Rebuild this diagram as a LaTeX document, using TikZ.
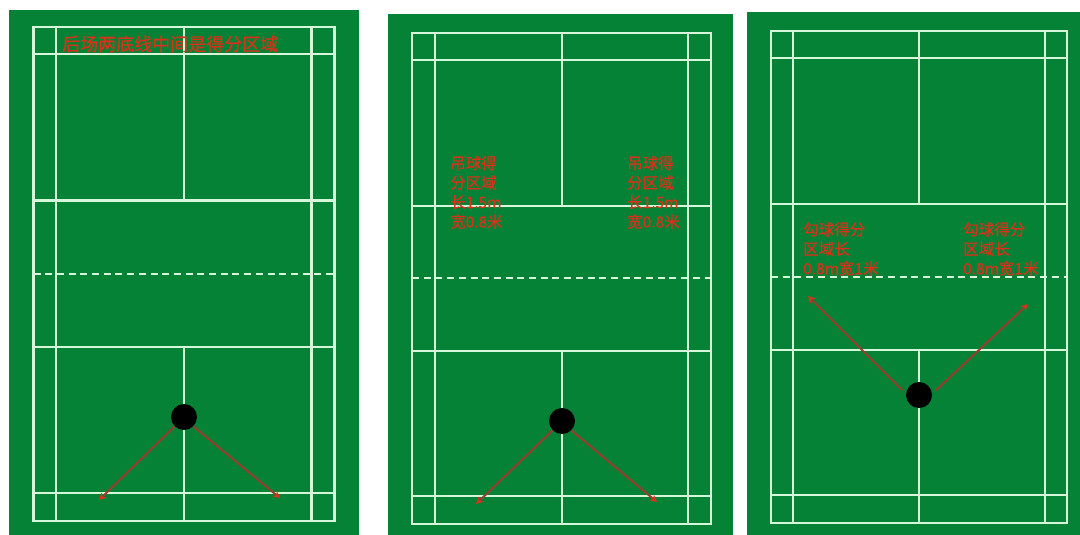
\documentclass[tikz,border=0pt]{standalone}
\usepackage{fontspec}
\setmainfont[FakeBold=0.4]{Noto Sans CJK SC}
\usetikzlibrary{arrows.meta}
\definecolor{courtgreen}{RGB}{6,130,54}
\definecolor{courtline}{RGB}{214,248,218}
\definecolor{zonered}{RGB}{222,48,24}
\definecolor{hitbrown}{RGB}{150,62,45}
\tikzset{
  courtmark/.style={draw=courtline, line width=2.4pt},
  netmark/.style={courtmark, dash pattern=on 7pt off 4.7pt},
  ball/.style={circle, fill=black, inner sep=0pt, minimum size=26pt},
  zone/.style={text=zonered, inner sep=0pt, anchor=west, align=left, font=\fontsize{15.5}{19.5}\selectfont},
  hit/.style={-{Stealth[length=7pt, width=7pt, color=zonered]}, draw=hitbrown, line width=2pt}
}

\begin{document}
\begin{tikzpicture}[x=1pt, y=-1pt]
\useasboundingbox (0,0) rectangle (1080,535);

% Three courts
\foreach \bl/\br/\bt/\xa/\xb/\xc/\xd/\xe/\ya/\yb/\yc/\yd/\ye/\yf/\yn in {
  9/359/10/33.5/56/184/311.5/334.5/27/54/200.5/347/493/521/274,
  388/733/14/412/435/562/688/711/33/60/206/351/496/524/278,
  747/1080/12/771/793/919/1045/1067/31/58/204/350/495/523/277} {
  \fill[courtgreen] (\bl,\bt) rectangle (\br,535);
  % Outer lines and tramlines
  \draw[courtmark] (\xa,\ya) rectangle (\xe,\yf);
  \draw[courtmark] (\xb,\ya) -- (\xb,\yf);
  \draw[courtmark] (\xd,\ya) -- (\xd,\yf);
  % Cross lines
  \foreach \y in {\yb,\yc,\yd,\ye} {
    \draw[courtmark] (\xa,\y) -- (\xe,\y);
  }
  % Centre line, broken at the net zone
  \draw[courtmark] (\xc,\ya) -- (\xc,\yc);
  \draw[courtmark] (\xc,\yd) -- (\xc,\yf);
  % Net
  \draw[netmark] (\xa,\yn) -- (\xe,\yn);
}

% Left court
\node[zone, font=\fontsize{18}{20}\selectfont] (reartext) at (62,44) {后场两底线中间是得分区域};
\node[ball] (balla) at (184,417) {};
\coordinate (tipaleft) at (99,500);
\coordinate (tiparight) at (280,498);
\draw[hit] (balla.south west) -- (tipaleft);
\draw[hit] (balla.south east) -- (tiparight);

% Middle court
\node[zone] (dropleft) at (450,192.5) {吊球得\\分区域\\长1.5m\\宽0.8米};
\node[zone] (dropright) at (627,192.5) {吊球得\\分区域\\长1.5m\\宽0.8米};
\node[ball] (ballb) at (562,421) {};
\coordinate (tipbleft) at (476,504);
\coordinate (tipbright) at (657,502);
\draw[hit] (ballb.south west) -- (tipbleft);
\draw[hit] (ballb.south east) -- (tipbright);

% Right court
\node[zone] (hookleft) at (803,249) {勾球得分\\区域长\\0.8m宽1米};
\node[zone] (hookright) at (963,249) {勾球得分\\区域长\\0.8m宽1米};
\node[ball] (ballc) at (919,395) {};
\coordinate (tipcleft) at (808,296);
\coordinate (tipcright) at (1028,304);
\draw[hit, shorten <=5pt] (ballc.175) -- (tipcleft);
\draw[hit, shorten <=5pt] (ballc.5) -- (tipcright);

\end{tikzpicture}
\end{document}
